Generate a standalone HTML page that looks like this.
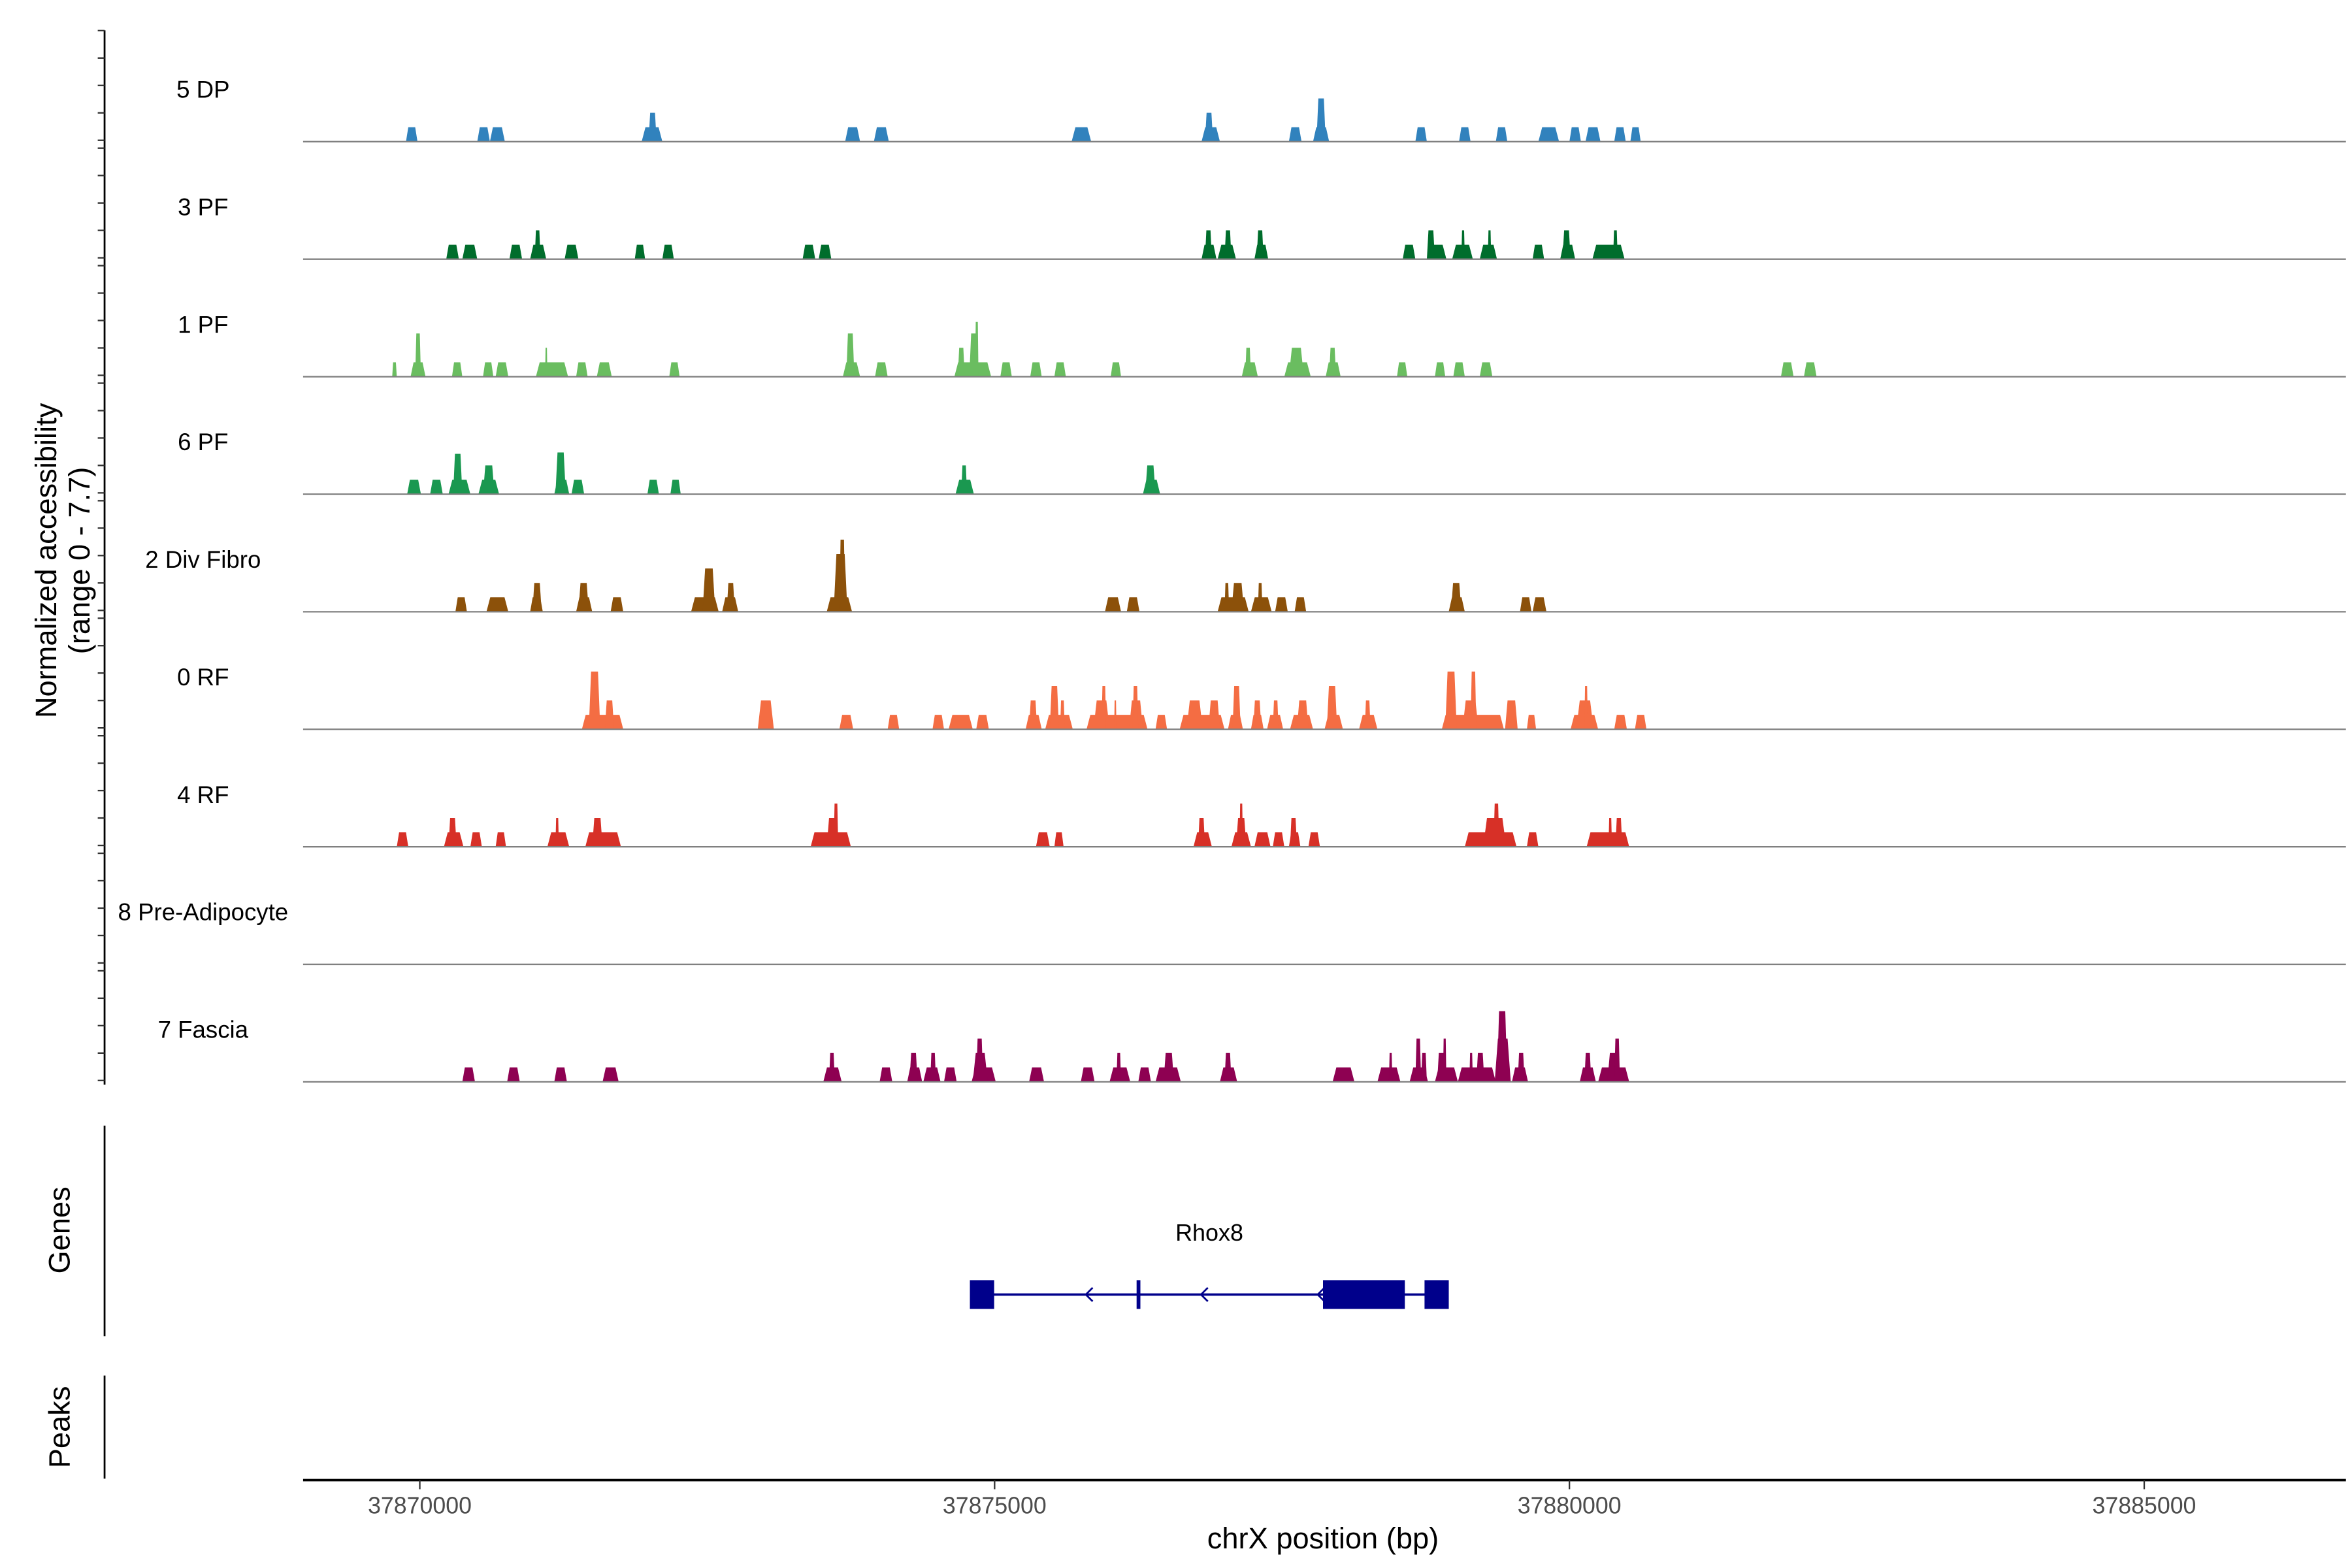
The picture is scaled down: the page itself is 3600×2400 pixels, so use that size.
<!DOCTYPE html>
<html><head><meta charset="utf-8"><style>
html,body{margin:0;padding:0;background:#fff;}
svg{display:block;font-family:"Liberation Sans",Arial,sans-serif;}
</style></head><body>
<svg id="chart" width="3600" height="2400" viewBox="0 0 1552 1035" preserveAspectRatio="none" xmlns="http://www.w3.org/2000/svg">
<rect x="0" y="0" width="1552" height="1035" fill="#fff"/>
<g id="tracks"></g>
<g id="axes">
  <line x1="69" y1="20" x2="69" y2="716" stroke="#000" stroke-width="1.2"/>
  <text transform="translate(37,370) rotate(-90)" text-anchor="middle" font-size="19.5">Normalized accessibility</text>
  <text transform="translate(59,370) rotate(-90)" text-anchor="middle" font-size="19.5">(range 0 - 7.7)</text>
  <line x1="69" y1="743" x2="69" y2="882" stroke="#000" stroke-width="1.2"/>
  <text transform="translate(46,812) rotate(-90)" text-anchor="middle" font-size="19.5">Genes</text>
  <line x1="69" y1="908" x2="69" y2="976" stroke="#000" stroke-width="1.2"/>
  <text transform="translate(46,942) rotate(-90)" text-anchor="middle" font-size="19.5">Peaks</text>
  <line x1="200" y1="977" x2="1548" y2="977" stroke="#000" stroke-width="1.6"/>
  <text x="873" y="1022" text-anchor="middle" font-size="19.5">chrX position (bp)</text>
</g>
<g id="gene">
  <text x="798" y="819" text-anchor="middle" font-size="15.5">Rhox8</text>
  <line x1="648" y1="854.5" x2="948" y2="854.5" stroke="#00008b" stroke-width="1.6"/>
  <rect x="640" y="845" width="16" height="19" fill="#00008b"/>
  <rect x="750" y="845" width="2.5" height="19" fill="#00008b"/>
  <rect x="873" y="845" width="54" height="19" fill="#00008b"/>
  <rect x="940" y="845" width="16" height="19" fill="#00008b"/>
  <path d="M721 850 L716.5 854.5 L721 859 M797 850 L792.5 854.5 L797 859 M874 850 L869.5 854.5 L874 859" fill="none" stroke="#00008b" stroke-width="1.2"/>
</g>
<g id="xticks"></g>
</svg>
<script>
// Data (positions in kb offset from 37,870,000 bp; values in normalized accessibility)
const trackNames = ["5 DP","3 PF","1 PF","6 PF","2 Div Fibro","0 RF","4 RF","8 Pre-Adipocyte","7 Fascia"];
const trackColors = ["#3182bd","#006d2c","#6abd60","#1a9850","#8c510a","#f46d43","#d73027","#7b3294","#8e0152"];
const xTickValues = [37870000,37875000,37880000,37885000];
const xTickLabels = ["37870000","37875000","37880000","37885000"];
const yRangeMax = 7.7;
const peaks5DP = [[-0.12,-0.02,1],[0.50,0.61,1],[0.61,0.74,1],[1.93,2.11,1],[1.99,2.06,2],[3.70,3.83,1],[3.95,4.08,1],[5.67,5.84,1],[6.80,6.96,1],[6.83,6.90,2],[7.56,7.67,1],[7.77,7.91,1],[7.80,7.88,3],[8.66,8.76,1],[9.04,9.14,1],[9.36,9.46,1],[9.73,9.91,1],[10.00,10.10,1],[10.14,10.27,1],[10.39,10.49,1],[10.53,10.62,1]];
const peaks3PF = [[0.23,0.34,1],[0.37,0.50,1],[0.78,0.89,1],[0.96,1.10,1],[1.00,1.05,2],[1.26,1.38,1],[1.87,1.96,1],[2.11,2.21,1],[3.33,3.44,1],[3.47,3.58,1],[6.80,6.93,1],[6.83,6.89,2],[6.94,7.10,1],[7.00,7.06,2],[7.26,7.38,1],[7.28,7.34,2],[8.55,8.66,1],[8.76,8.93,1],[8.76,8.83,2],[8.98,9.16,1],[9.06,9.09,2],[9.22,9.37,1],[9.29,9.32,2],[9.68,9.78,1],[9.92,10.05,1],[9.94,10.01,2],[10.20,10.48,1],[10.38,10.42,2]];
const peaks1PF = [[-0.24,-0.20,1],[-0.08,0.05,1],[-0.04,0.01,3],[0.28,0.37,1],[0.55,0.64,1],[0.66,0.77,1],[1.01,1.29,1],[1.09,1.11,2],[1.36,1.46,1],[1.54,1.67,1],[2.17,2.26,1],[3.68,3.83,1],[3.71,3.78,3],[3.96,4.07,1],[4.65,4.97,1],[4.68,4.74,2],[4.78,4.86,3],[4.83,4.86,3.8],[5.05,5.15,1],[5.31,5.41,1],[5.52,5.62,1],[6.01,6.10,1],[7.15,7.29,1],[7.18,7.23,2],[7.52,7.75,1],[7.56,7.69,2],[7.88,8.01,1],[7.91,7.97,2],[8.50,8.59,1],[8.83,8.92,1],[8.99,9.09,1],[9.22,9.33,1],[11.84,11.95,1],[12.04,12.15,1]];
const peaks6PF = [[-0.11,0.01,1],[0.09,0.20,1],[0.25,0.44,1],[0.29,0.37,2.8],[0.51,0.69,1],[0.55,0.65,2],[1.17,1.30,1],[1.18,1.27,2.9],[1.32,1.43,1],[1.98,2.08,1],[2.18,2.27,1],[4.66,4.82,1],[4.71,4.76,2],[6.29,6.44,1],[6.31,6.40,2]];
const peaksDiv = [[0.31,0.41,1],[0.58,0.77,1],[0.96,1.07,1],[0.98,1.06,2],[1.36,1.50,1],[1.38,1.47,2],[1.66,1.77,1],[2.36,2.60,1],[2.46,2.57,3],[2.63,2.77,1],[2.67,2.74,2],[3.54,3.76,1],[3.60,3.72,4],[3.65,3.70,5],[5.96,6.10,1],[6.15,6.26,1],[6.94,7.21,1],[7.00,7.04,2],[7.06,7.17,2],[7.23,7.41,1],[7.29,7.33,2],[7.44,7.55,1],[7.61,7.71,1],[8.95,9.09,1],[8.97,9.06,2],[9.57,9.67,1],[9.68,9.80,1]];
const peaks0RF = [[1.41,1.77,1],[1.47,1.57,4],[1.61,1.69,2],[2.94,3.08,2],[3.65,3.77,1],[4.07,4.17,1],[4.46,4.56,1],[4.60,4.81,1],[4.84,4.95,1],[5.27,5.41,1],[5.30,5.37,2],[5.44,5.68,1],[5.48,5.56,3],[5.57,5.61,2],[5.80,6.33,1],[5.86,6.00,2],[5.93,5.97,3],[6.04,6.06,2],[6.17,6.29,2],[6.20,6.25,3],[6.40,6.50,1],[6.61,7.00,1],[6.67,6.81,2],[6.86,6.96,2],[7.03,7.16,1],[7.07,7.14,3],[7.23,7.34,1],[7.25,7.32,2],[7.37,7.51,1],[7.42,7.47,2],[7.57,7.77,1],[7.63,7.73,2],[7.87,8.03,1],[7.89,7.98,3],[8.17,8.33,1],[8.22,8.27,2],[8.89,9.43,1],[8.92,9.02,4],[9.07,9.21,2],[9.14,9.19,4],[9.44,9.55,2],[9.63,9.71,1],[10.01,10.25,1],[10.06,10.21,2],[10.13,10.16,3],[10.39,10.50,1],[10.57,10.67,1]];
const peaks4RF = [[-0.20,-0.10,1],[0.21,0.38,1],[0.25,0.32,2],[0.44,0.54,1],[0.66,0.75,1],[1.11,1.30,1],[1.18,1.21,2],[1.44,1.75,1],[1.50,1.59,2],[3.40,3.75,1],[3.54,3.64,2],[3.60,3.64,3],[5.36,5.48,1],[5.52,5.60,1],[6.73,6.89,1],[6.77,6.83,2],[7.06,7.23,1],[7.10,7.19,2],[7.13,7.16,3],[7.26,7.40,1],[7.42,7.52,1],[7.56,7.66,1],[7.57,7.63,2],[7.73,7.83,1],[9.09,9.54,1],[9.25,9.45,2],[9.34,9.39,3],[9.63,9.73,1],[10.15,10.52,1],[10.34,10.37,2],[10.40,10.46,2]];
const peaksPreAd = [];
const peaksFascia = [[0.37,0.48,1],[0.76,0.87,1],[1.17,1.28,1],[1.59,1.73,1],[3.51,3.67,1],[3.56,3.61,2],[4.00,4.11,1],[4.24,4.37,1],[4.26,4.33,2],[4.38,4.53,1],[4.44,4.49,2],[4.56,4.67,1],[4.80,5.01,1],[4.81,4.94,2],[4.84,4.90,3],[5.30,5.43,1],[5.75,5.87,1],[6.00,6.18,1],[6.06,6.10,2],[6.25,6.36,1],[6.40,6.62,1],[6.47,6.56,2],[6.96,7.11,1],[7.00,7.06,2],[7.94,8.13,1],[8.33,8.53,1],[8.43,8.46,2],[8.61,8.77,1],[8.66,8.71,3],[8.71,8.76,2],[8.83,9.03,1],[8.85,8.92,2],[8.90,8.93,3],[9.03,9.36,1],[9.13,9.16,2],[9.19,9.26,2],[9.35,9.49,3],[9.37,9.46,4.9],[9.50,9.64,1],[9.55,9.61,2],[10.09,10.23,1],[10.13,10.19,2],[10.25,10.52,1],[10.33,10.44,2],[10.39,10.44,3]];
const trackPeaks = [peaks5DP,peaks3PF,peaks1PF,peaks6PF,peaksDiv,peaks0RF,peaks4RF,peaksPreAd,peaksFascia];

const NS = "http://www.w3.org/2000/svg";
const X0 = 277, PX_PER_BP = 379.3/5000;
function xScale(bp){ return X0 + (bp - 37870000) * PX_PER_BP; }
const firstBase = 93.5, trackStep = 77.575, trackH = 73.3;
function baseY(i){ return firstBase + i*trackStep; }
function yScale(i, v){ return baseY(i) - v/yRangeMax*trackH; }

const gTracks = document.getElementById('tracks');
const gAxes = document.getElementById('axes');
trackNames.forEach(function(name, i){
  const b = baseY(i);
  const g = document.createElementNS(NS,'g');
  
  
  gTracks.appendChild(g);
  const top = b - 73.3;
  for (let k=0;k<5;k++){
    const t = document.createElementNS(NS,'line');
    const ty = top + k*18.1;
    t.setAttribute('x1',64.5); t.setAttribute('x2',69); t.setAttribute('y1',ty); t.setAttribute('y2',ty);
    t.setAttribute('stroke','#333'); t.setAttribute('stroke-width','1');
    
    
    gAxes.appendChild(t);
  }
  const lab = document.createElementNS(NS,'text');
  lab.setAttribute('x',134); lab.setAttribute('y',b-29);
  lab.setAttribute('text-anchor','middle'); lab.setAttribute('font-size','15.8');
  lab.textContent = name;
  
  
  g.appendChild(lab);
  trackPeaks[i].forEach(function(p){
    const x0 = xScale(37870000 + p[0]*1000), x1 = xScale(37870000 + p[1]*1000);
    const w = x1 - x0, yt = yScale(i, p[2]);
    const s = Math.min(w*0.2, 2.5);
    const poly = document.createElementNS(NS,'polygon');
    poly.setAttribute('points', x0+','+b+' '+(x0+s)+','+yt+' '+(x1-s)+','+yt+' '+x1+','+b);
    poly.setAttribute('fill', trackColors[i]);
    
    
    g.appendChild(poly);
  });
  const bl = document.createElementNS(NS,'line');
  bl.setAttribute('x1',200); bl.setAttribute('x2',1548); bl.setAttribute('y1',b); bl.setAttribute('y2',b);
  bl.setAttribute('stroke','#808080'); bl.setAttribute('stroke-width','1');
  
  
  g.appendChild(bl);
});
const gx = document.getElementById('xticks');
xTickValues.forEach(function(v, j){
  const x = xScale(v);
  const t = document.createElementNS(NS,'line');
  t.setAttribute('x1',x); t.setAttribute('x2',x); t.setAttribute('y1',977); t.setAttribute('y2',983);
  t.setAttribute('stroke','#333'); t.setAttribute('stroke-width','1');
  
  
  gx.appendChild(t);
  const tl = document.createElementNS(NS,'text');
  tl.setAttribute('x',x); tl.setAttribute('y',999);
  tl.setAttribute('text-anchor','middle'); tl.setAttribute('font-size','15.4'); tl.setAttribute('fill','#4d4d4d');
  tl.textContent = xTickLabels[j];
  
  
  gx.appendChild(tl);
});
</script>
</body></html>
